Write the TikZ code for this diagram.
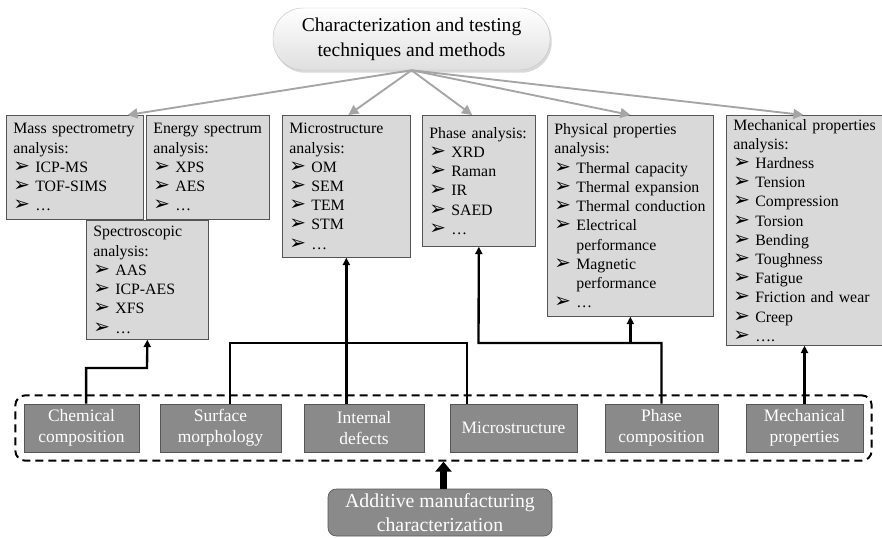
\documentclass[tikz,border=0pt]{standalone}
\usepackage{fontspec}
\setmainfont{Liberation Serif}
\newfontfamily\symfont{DejaVu Sans}
\usepackage{xcolor}
\usepackage{tikz}
\usetikzlibrary{arrows.meta, positioning, fit, shadows}

\definecolor{boxgray}{RGB}{217,217,217}
\definecolor{boxline}{RGB}{85,85,85}
\definecolor{darkbox}{RGB}{138,138,138}
\definecolor{arrowgray}{RGB}{165,165,165}

\newcommand{\itm}{\makebox[6.6mm][l]{\symfont\fontsize{17}{10}\selectfont ➢}}
\newcommand{\ind}{\hspace*{6.6mm}}

\begin{document}
\begin{tikzpicture}[x=0.3mm, y=-0.3mm,
    anbox/.style={rectangle, draw=boxline, fill=boxgray, line width=0.6pt, anchor=north west, align=left, inner xsep=2.1mm, inner ysep=0pt, font=\fontsize{13.5}{16.4}\selectfont},
    feature/.style={rectangle, draw=boxline, fill=darkbox, line width=0.6pt, minimum height=14.4mm, inner sep=0pt, align=center, text=white, font=\fontsize{14.9}{17.9}\selectfont},
    topic/.style={rectangle, rounded corners=9mm, draw=gray!45, top color=white, bottom color=gray!25, minimum width=83.1mm, minimum height=18.6mm, align=center, font=\fontsize{16.7}{21.3}\selectfont, drop shadow={shadow xshift=0.5mm, shadow yshift=-0.8mm, opacity=0.3}},
    source/.style={rectangle, rounded corners=2.5mm, draw=gray!70!black, fill=darkbox, line width=0.6pt, minimum width=67.2mm, minimum height=14.1mm, inner sep=0pt, align=center, text=white, font=\fontsize{16.9}{20}\selectfont},
    frame/.style={rectangle, rounded corners=3mm, draw, dashed, dash pattern=on 2.4mm off 1.5mm, line width=1.7pt, inner sep=2.5mm},
    garrow/.style={draw=arrowgray, line width=1.6pt, -{Triangle[length=3mm, width=3mm]}},
    wire/.style={line width=2pt},
    feed/.style={line width=2pt, -{Triangle[length=2.2mm, width=2.1mm]}},
    bigarrow/.style={line width=2.1mm, -{Triangle[length=3mm, width=4.8mm]}}
]
\useasboundingbox (0,0) rectangle (882,537);

% Title
\node[topic] (top) at (411.5,39) {Characterization and testing\\techniques and methods};

% Analysis boxes
\node[anbox, text width=36.9mm, minimum height=31.2mm] (mass) at (6,115)
    {Mass spectrometry\\analysis:\\\itm ICP-MS\\\itm TOF-SIMS\\\itm …};
\node[anbox, text width=32.7mm, minimum height=31.2mm] (energy) at (146,115)
    {Energy spectrum\\analysis:\\\itm XPS\\\itm AES\\\itm …};
\node[anbox, text width=32.4mm, minimum height=35.7mm] (spec) at (86,220)
    {Spectroscopic\\analysis:\\\itm AAS\\\itm ICP-AES\\\itm XFS\\\itm …};
\node[anbox, text width=34.2mm, minimum height=42.6mm] (micro) at (282,115)
    {Microstructure\\analysis:\\\itm OM\\\itm SEM\\\itm TEM\\\itm STM\\\itm …};
\node[anbox, text width=29.7mm, minimum height=39.3mm] (phase) at (422,115)
    {Phase analysis:\\\itm XRD\\\itm Raman\\\itm IR\\\itm SAED\\\itm …};
\node[anbox, text width=45.6mm, minimum height=60.3mm] (phys) at (547,115)
    {Physical properties\\analysis:\\\itm Thermal capacity\\\itm Thermal expansion\\\itm Thermal conduction\\\itm Electrical\\\ind performance\\\itm Magnetic\\\ind performance\\\itm …};
\node[anbox, text width=44.4mm, minimum height=69mm] (mech) at (726,115)
    {Mechanical properties\\analysis:\\\itm Hardness\\\itm Tension\\\itm Compression\\\itm Torsion\\\itm Bending\\\itm Toughness\\\itm Fatigue\\\itm Friction and wear\\\itm Creep\\\itm ….};

% Features
\node[feature, minimum width=34.5mm] (chem) at (81.5,428) {Chemical\\composition};
\node[feature, minimum width=36.3mm] (surf) at (220.5,428) {Surface\\morphology};
\node[feature, minimum width=36mm] (defects) at (364,428) {Internal\\defects};
\node[feature, minimum width=38.1mm] (mstr) at (513.5,428) {Microstructure};
\node[feature, minimum width=33.9mm] (phasec) at (661.5,428) {Phase\\composition};
\node[feature, minimum width=35.1mm] (mechp) at (804.5,428) {Mechanical\\properties};
\node[frame, fit=(chem)(mechp)] (group) {};

% Source
\node[source] (amc) at (440,512.5) {Additive manufacturing\\characterization};

% Junctions
\coordinate (jc) at (147,368);
\coordinate (jm) at (467,343);
\coordinate (jp) at (478.5,343);

% Methods
\draw[garrow] (top.south) -- ([xshift=15.8mm]mass.north);
\draw[garrow] (top.south) -- ([xshift=0.6mm]micro.north);
\draw[garrow] (top.south) -- ([xshift=-2mm]phase.north);
\draw[garrow] (top.south) -- (phys.north);
\draw[garrow] (top.south) -- ([xshift=-1.2mm]mech.north);

% Links
\draw[feed] ([xshift=1.4mm]chem.north) |- (jc) -- (spec.south);
\draw[wire] ([xshift=2.9mm]surf.north) |- (jm) -- (jm |- mstr.north);
\draw[feed] (defects.north -| micro.south) -- (micro.south);
\draw[feed] (phasec.north) |- (jp) -- (phase.south);
\draw[feed] (phys.south |- jp) -- (phys.south);
\draw[feed] (mechp.north) -- (mechp.north |- mech.south);
\draw[bigarrow] (amc.north -| group.south) -- (group.south);

\end{tikzpicture}
\end{document}
